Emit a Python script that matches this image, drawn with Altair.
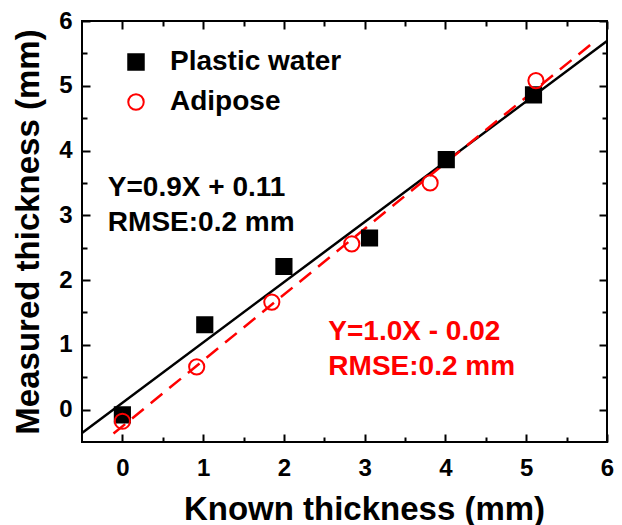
import altair as alt
import pandas as pd

FONT = "Liberation Sans"

# ---- data ----
series = ["Plastic water", "Adipose"]
known_pw = [0.0, 1.02, 2.0, 3.06, 4.01, 5.09]
meas_pw = [-0.08, 1.31, 2.21, 2.65, 3.86, 4.86]
known_ad = [0.0, 0.92, 1.85, 2.84, 3.81, 5.12]
meas_ad = [-0.18, 0.66, 1.66, 2.56, 3.50, 5.08]

fit_pw_x = [-0.5, 6.0]
fit_pw_y = [-0.36, 5.69]
fit_ad_x = [-0.11, 5.84]
fit_ad_y = [-0.37, 5.68]

tick_major = [0, 1, 2, 3, 4, 5, 6]
tick_minor = [0.5, 1.5, 2.5, 3.5, 4.5, 5.5]

ann_text = ["Y=0.9X + 0.11", "RMSE:0.2 mm", "Y=1.0X - 0.02", "RMSE:0.2 mm"]
ann_x = [-0.18, -0.18, 2.55, 2.55]
ann_y = [3.42, 2.88, 1.20, 0.66]
ann_color = ["black", "black", "red", "red"]

# ---- tables ----
pts = pd.DataFrame({
    "known": known_pw + known_ad,
    "measured": meas_pw + meas_ad,
    "series": [series[0]] * len(known_pw) + [series[1]] * len(known_ad),
})
fit_pw = pd.DataFrame({"x": fit_pw_x, "y": fit_pw_y})
fit_ad = pd.DataFrame({"x": fit_ad_x, "y": fit_ad_y})
ann = pd.DataFrame({"t": ann_text, "x": ann_x, "y": ann_y, "c": ann_color})

xs = alt.Scale(domain=[-0.5, 6], nice=False, zero=False)
ys = alt.Scale(domain=[-0.5, 6], nice=False, zero=False)

common = dict(domain=False, grid=False, tickColor="black", tickWidth=2,
              labelOverlap=False, labelFlush=False)


def major(orient, labels, title=None, lp=16, tp=10, **extra):
    kw = dict(common)
    kw.update(orient=orient, offset=-8, tickSize=8, values=tick_major,
              labels=labels, format="d")
    if labels:
        kw.update(labelFont=FONT, labelFontSize=24, labelFontWeight="bold",
                  labelColor="black", labelPadding=lp)
    if title:
        kw.update(title=title, titleFont=FONT, titleFontSize=33,
                  titleFontWeight="bold", titleColor="black", titlePadding=tp)
    else:
        kw.update(title=None)
    kw.update(extra)
    return alt.Axis(**kw)


def minor(orient):
    kw = dict(common)
    kw.update(orient=orient, offset=-5, tickSize=5, values=tick_minor,
              labels=False, title=None)
    return alt.Axis(**kw)


line_pw = alt.Chart(fit_pw).mark_line(color="black", strokeWidth=2.5).encode(
    x=alt.X("x:Q", scale=xs, axis=major("bottom", True, "Known thickness (mm)", lp=14, tp=13, titleX=282)),
    y=alt.Y("y:Q", scale=ys, axis=major("left", True, "Measured thickness (mm)", lp=10, tp=13)),
)

line_ad = alt.Chart(fit_ad).mark_line(color="red", strokeWidth=2.5, strokeDash=[15, 9]).encode(
    x=alt.X("x:Q", scale=xs, axis=major("top", False)),
    y=alt.Y("y:Q", scale=ys, axis=major("right", False)),
)

leg = alt.Legend(title=None, orient="none", legendX=40, legendY=27,
                 labelFont=FONT, labelFontSize=28, labelFontWeight="bold",
                 labelColor="black", labelLimit=0, symbolSize=240,
                 symbolStrokeWidth=2, rowPadding=12, labelOffset=20)

points = alt.Chart(pts).mark_point(size=230, strokeWidth=2, opacity=1).encode(
    x=alt.X("known:Q", scale=xs, axis=minor("bottom")),
    y=alt.Y("measured:Q", scale=ys, axis=minor("left")),
    color=alt.Color("series:N", scale=alt.Scale(domain=series, range=["black", "red"]), legend=leg),
    fill=alt.Fill("series:N", scale=alt.Scale(domain=series, range=["black", "transparent"]), legend=leg),
    shape=alt.Shape("series:N", scale=alt.Scale(domain=series, range=["square", "circle"]), legend=leg),
    order=alt.Order("order:Q"),
).transform_calculate(order="datum.series == 'Plastic water' ? 0 : 1")

text = alt.Chart(ann).mark_text(align="left", baseline="middle", font=FONT,
                                fontSize=28, fontWeight="bold").encode(
    x=alt.X("x:Q", scale=xs, axis=minor("top")),
    y=alt.Y("y:Q", scale=ys, axis=minor("right")),
    text="t:N",
    color=alt.Color("c:N", scale=None),
)

chart = alt.layer(line_pw, line_ad, points, text).resolve_axis(
    x="independent", y="independent"
).properties(
    width=525, height=421,
    autosize=alt.AutoSizeParams(type="none"),
    padding={"left": 82, "top": 21, "right": 15, "bottom": 83},
).configure_view(stroke="black", strokeWidth=2)

chart.save("out.html", embed_options={"renderer": "svg", "actions": False})
